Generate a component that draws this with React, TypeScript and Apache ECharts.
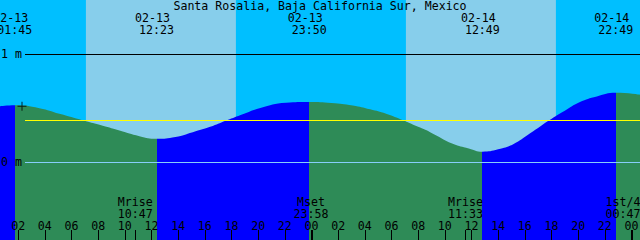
import React, { useEffect, useRef } from 'react';
import * as echarts from 'echarts';

// ---------- data ----------
const TITLE = 'Santa Rosalia, Baja California Sur, Mexico';
const DAYS = ['02-13', '02-14', '02-15'];

// visible time window (hours after 02-13 00:00)
const T_MIN = 0.64;
const T_MAX = 48.64;
// visible height window (metres)
const Y_MIN = -0.7176;
const Y_MAX = 1.5046;

// tide curve samples (hours, metres)
const tideTimes = [0.64, 1.75, 3.6, 5.1, 6.9, 8.1, 9.6, 11.1, 12.38, 13.8, 15.1, 16.4, 17.6, 18.9, 20.1, 22.1, 23.83, 25.5, 27.1, 28.4, 29.6, 30.9, 32.0, 32.9, 34.6, 35.8, 36.82, 38.0, 39.1, 40.4, 41.8, 43.0, 44.1, 45.4, 46.82, 48.64];
const tideHeights = [0.521, 0.53, 0.503, 0.451, 0.389, 0.349, 0.296, 0.244, 0.22, 0.236, 0.281, 0.33, 0.389, 0.45, 0.503, 0.553, 0.56, 0.551, 0.528, 0.492, 0.451, 0.389, 0.33, 0.281, 0.173, 0.13, 0.1, 0.122, 0.167, 0.27, 0.389, 0.48, 0.558, 0.612, 0.645, 0.627];

// high / low tide events
const tideEventDates = ['02-13', '02-13', '02-13', '02-14', '02-14'];
const tideEventTimes = ['01:45', '12:23', '23:50', '12:49', '22:49'];
const tideEventKinds = ['high', 'low', 'high', 'low', 'high'];

// moon events
const moonEventNames = ['Mrise', 'Mset', 'Mrise', '1st/4'];
const moonEventDates = ['02-13', '02-13', '02-14', '02-15'];
const moonEventTimes = ['10:47', '23:58', '11:33', '00:47'];

// daylight
const daylightDates = ['02-13', '02-14'];
const sunriseTimes = ['07:05', '07:05'];
const sunsetTimes = ['18:20', '18:20'];

// hour ticks
const hourTicks = [2, 4, 6, 8, 10, 12, 14, 16, 18, 20, 22, 24, 26, 28, 30, 32, 34, 36, 38, 40, 42, 44, 46, 48];
const midnightTicks = [24, 48];

// reference levels (metres)
const levelValues = [1, 0.389, 0];
const levelColors = ['#000000', '#FFFF00', '#87CEFA'];
const levelLabels = [0, 1];

// "+" mark
const markTime = 2.29;
const markHeight = 0.52;

// ---------- styling ----------
const FONT = 'DejaVu Sans Mono';
const FS = 11.6;
const LH = 11.7;
const NIGHT = '#00BFFF';
const DAY = '#87CEEB';
const FLOOD = '#0000FF';
const EBB = '#2E8B57';

function toHours(date: string, hhmm: string): number {
  const [h, m] = hhmm.split(':').map(Number);
  return DAYS.indexOf(date) * 24 + h + m / 60;
}

export default function App() {
  const ref = useRef<HTMLDivElement>(null);

  useEffect(() => {
    document.body.style.margin = '0';
    if (!ref.current) return;
    const chart = echarts.init(ref.current, null, { renderer: 'svg' });

    const pxPerHour = 640 / (T_MAX - T_MIN);
    const tideT = tideEventDates.map((d, i) => toHours(d, tideEventTimes[i]));
    const moonT = moonEventDates.map((d, i) => toHours(d, moonEventTimes[i]));
    const moonLabelT = moonT.map((t) => Math.min(t, T_MAX - 17 / pxPerHour));

    const pieces: any[] = [];
    pieces.push({ lt: tideT[0], color: tideEventKinds[0] === 'high' ? FLOOD : EBB });
    tideT.forEach((t, i) => {
      const color = tideEventKinds[i] === 'high' ? EBB : FLOOD;
      if (i < tideT.length - 1) pieces.push({ gte: t, lt: tideT[i + 1], color });
      else pieces.push({ gte: t, color });
    });

    const findIdx = (arr: number[], v: number) => {
      let best = 0;
      arr.forEach((a, i) => {
        if (Math.abs(a - v) < Math.abs(arr[best] - v)) best = i;
      });
      return best;
    };

    const textBase = { color: '#000', fontFamily: FONT, fontSize: FS, lineHeight: LH };
    const baseX = {
      type: 'value',
      min: T_MIN,
      max: T_MAX,
      gridIndex: 0,
      splitLine: { show: false },
      axisLine: { show: false, onZero: false },
      z: 10,
    };

    const option: any = {
      animation: false,
      backgroundColor: NIGHT,
      title: {
        text: TITLE,
        left: 'center',
        top: 0,
        padding: 0,
        textStyle: { ...textBase, fontWeight: 'normal' },
      },
      grid: { left: 0, right: 0, top: 0, bottom: 0, containLabel: false, outerBoundsMode: 'none' },
      xAxis: [
        {
          ...baseX,
          position: 'bottom',
          axisTick: { show: true, inside: true, length: 10, customValues: hourTicks, lineStyle: { color: '#000', width: 1 } },
          axisLabel: {
            show: true,
            inside: true,
            customValues: hourTicks,
            margin: 8.5,
            ...textBase,
            formatter: (v: number) => String(Math.round(v) % 24).padStart(2, '0'),
          },
        },
        {
          ...baseX,
          position: 'bottom',
          axisTick: { show: true, inside: true, length: 10, customValues: moonT, lineStyle: { color: '#000', width: 1 } },
          axisLabel: {
            show: true,
            inside: true,
            customValues: moonLabelT,
            margin: 19.5,
            ...textBase,
            lineHeight: 12.2,
            formatter: (v: number) => {
              const i = findIdx(moonLabelT, v);
              return moonEventNames[i] + '\n' + moonEventTimes[i];
            },
          },
        },
        {
          ...baseX,
          position: 'bottom',
          axisTick: { show: true, inside: true, length: 10, customValues: midnightTicks, lineStyle: { color: '#000', width: 2 } },
          axisLabel: { show: false },
        },
        {
          ...baseX,
          position: 'top',
          axisTick: { show: false },
          axisLabel: {
            show: true,
            inside: true,
            customValues: tideT,
            margin: 12,
            ...textBase,
            formatter: (v: number) => {
              const i = findIdx(tideT, v);
              return '{d|' + tideEventDates[i] + '}\n{t|' + tideEventTimes[i] + '}';
            },
            rich: {
              d: { ...textBase, padding: [0, 8, 0, 0] },
              t: { ...textBase },
            },
          },
        },
      ],
      yAxis: {
        type: 'value',
        min: Y_MIN,
        max: Y_MAX,
        position: 'left',
        z: 10,
        axisLine: { show: false, onZero: false },
        axisTick: { show: false },
        splitLine: { show: false },
        axisLabel: {
          show: true,
          inside: true,
          customValues: levelLabels,
          margin: 1,
          ...textBase,
          formatter: (v: number) => `${v} m`,
        },
      },
      visualMap: {
        type: 'piecewise',
        show: false,
        dimension: 0,
        seriesIndex: 0,
        pieces,
      },
      series: [
        {
          type: 'line',
          xAxisIndex: 0,
          yAxisIndex: 0,
          data: tideTimes.map((t, i) => [t, tideHeights[i]]),
          smooth: 0.5,
          showSymbol: false,
          symbol: 'none',
          silent: true,
          z: 2,
          lineStyle: { width: 0 },
          areaStyle: { opacity: 1, origin: 'start' },
          markArea: {
            silent: true,
            itemStyle: { color: DAY },
            data: daylightDates.map((d, i) => [
              { xAxis: toHours(d, sunriseTimes[i]) },
              { xAxis: toHours(d, sunsetTimes[i]) },
            ]),
          },
          markLine: {
            silent: true,
            symbol: ['none', 'none'],
            label: { show: false },
            lineStyle: { type: 'solid', width: 1 },
            data: levelValues.map((v, i) => [
              { x: 25, xAxis: T_MIN, yAxis: v, lineStyle: { color: levelColors[i], type: 'solid', width: 1 } },
              { xAxis: T_MAX, yAxis: v },
            ]),
          },
        },
        {
          type: 'scatter',
          xAxisIndex: 0,
          yAxisIndex: 0,
          data: [[markTime, markHeight]],
          symbol: 'path://M0,4H9V5H0ZM4,0H5V9H4Z',
          symbolSize: 9,
          itemStyle: { color: '#000' },
          silent: true,
          z: 6,
        },
      ],
    };

    chart.setOption(option);
    return () => chart.dispose();
  }, []);

  return <div ref={ref} style={{ width: 640, height: 240 }} />;
}
